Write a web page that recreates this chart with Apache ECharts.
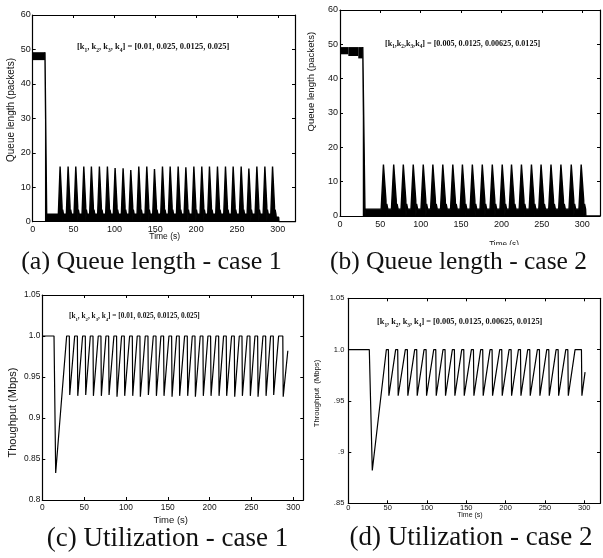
<!DOCTYPE html>
<html>
<head>
<meta charset="utf-8">
<style>
  html, body { margin: 0; padding: 0; background: #fff; }
  #chart { width: 603px; height: 558px; }
</style>
<script src="https://cdn.jsdelivr.net/npm/echarts@6/dist/echarts.min.js"></script>
</head>
<body>
<div id="chart"></div>
<script>
// ---------- values ----------
// (a) queue length, case 1  [t0, t1, low, high] of the saturated band before the drop
const queueA_preBand = [[0, 15.0, 46.9, 49.2]];
const queueA_dropT = [15.0, 17.2];
const queueA_baseLevel = 2.2;
const queueA_spikeT = [33.9, 43.7, 53.1, 62.9, 72.2, 82.0, 91.8, 101.2, 111.0, 120.4, 130.2, 140.0, 149.4, 159.2,
  168.6, 178.4, 187.8, 197.6, 207.3, 216.7, 226.5, 236.3, 245.7, 255.5, 264.9, 274.7, 284.5, 293.9];
const queueA_spikePeak = [16, 16, 16, 16, 16, 16, 16, 15.6, 15.5, 15, 16, 16, 15.3, 16,
  16, 16, 15.8, 16, 16, 16, 16, 16, 16, 16, 15.4, 16, 16, 16];
const queueA_tail = [[298, 1.3], [301, 1.3], [301.3, 0], [321, 0]];

// (b) queue length, case 2
const queueB_preBand = [[0, 10.3, 47.1, 49.2], [10.3, 22.6, 46.6, 49.2], [22.6, 28.2, 45.9, 49.2]];
const queueB_dropT = [28.2, 31.0];
const queueB_baseLevel = 2.0;
const queueB_spikeT = [54.3, 67.0, 78.9, 91.2, 103.6, 115.5, 127.8, 140.2, 152.1, 164.4, 176.7,
  189.1, 201.4, 212.9, 225.2, 237.6, 249.5, 261.8, 274.1, 286.9, 299.2];
const queueB_spikePeak = [15, 15, 15, 15, 15, 15, 15, 15, 15, 15, 15,
  15, 15, 15, 15, 15, 15, 15, 15, 15, 15];
const queueB_tail = [[304.5, 0], [322, 0]];

// (c) utilization, case 1
const capacity = 1.0;
const utilC_head = [[0, 1.0], [14, 1.0], [16, 0.833]];
const utilC_topT = [29.1, 38.7, 48.2, 57.4, 66.9, 76.1, 85.6, 94.8, 104.4, 113.5, 123.1, 132.7, 141.8, 151.4,
  160.5, 170.1, 179.3, 188.8, 198.0, 207.6, 216.7, 226.3, 235.5, 245.0, 254.2, 263.8, 272.9, 282.5];
const utilC_dropT = [32.3, 41.9, 51.4, 60.6, 70.1, 79.3, 88.8, 98.0, 107.6, 116.7, 126.3, 135.9, 145.0, 154.6,
  163.7, 173.3, 182.5, 192.0, 201.2, 210.8, 219.9, 229.5, 238.7, 248.2, 257.4, 267.0, 276.1, 287.5];
const utilC_lowT = [32.8, 42.4, 51.9, 61.1, 70.6, 79.8, 89.3, 98.5, 108.1, 117.2, 126.8, 136.4, 145.5, 155.1,
  164.2, 173.8, 183.0, 192.5, 201.7, 211.3, 220.4, 230.0, 239.2, 248.7, 257.9, 267.5, 276.6, 288.0];
const utilC_lowV = [0.928, 0.927, 0.928, 0.927, 0.927, 0.928, 0.926, 0.927, 0.927, 0.926, 0.928, 0.927, 0.927, 0.926,
  0.927, 0.927, 0.926, 0.927, 0.927, 0.927, 0.927, 0.926, 0.927, 0.927, 0.926, 0.927, 0.928, 0.926];
const utilC_tail = [[293.5, 0.982]];

// (d) utilization, case 2
const utilD_head = [[0, 1.0], [26.7, 1.0], [30.5, 0.882]];
const utilD_topT = [48.4, 60.2, 72.5, 84.4, 96.3, 108.6, 120.4, 132.3, 144.2, 156.5, 168.3,
  180.2, 192.5, 204.4, 216.3, 228.1, 240.4, 252.3, 264.2, 276.5, 288.3];
const utilD_dropT = [51.0, 62.8, 75.1, 87.0, 98.9, 111.2, 123.0, 134.9, 146.8, 159.1, 170.9,
  182.8, 195.1, 207.0, 218.9, 230.7, 243.0, 254.9, 266.8, 279.1, 296.4];
const utilD_lowT = [51.6, 63.4, 75.7, 87.6, 99.5, 111.8, 123.6, 135.5, 147.4, 159.7, 171.5,
  183.4, 195.7, 207.6, 219.5, 231.3, 243.6, 255.5, 267.4, 279.7, 297.0];
const utilD_lowV = [0.955, 0.955, 0.955, 0.955, 0.955, 0.955, 0.955, 0.955, 0.955, 0.955, 0.955,
  0.955, 0.955, 0.955, 0.955, 0.955, 0.955, 0.955, 0.955, 0.955, 0.955];
const utilD_tail = [[301, 0.978]];

// ---------- trace builders ----------
// each queue spike: steep rise to the peak, fall, thin empty notch at the foot
function queueTrace(preTop, dropT, base, spikeT, spikePeak, tail, w) {
  const pts = [[dropT[0], preTop], [dropT[1], 0], [dropT[1] + 0.2, base]];
  spikeT.forEach((t, i) => {
    pts.push([t - w, base], [t - 0.15 * w, spikePeak[i]], [t + 0.15 * w, spikePeak[i]], [t + 0.8 * w, 4.5],
      [t + 0.85 * w, 0], [t + 1.1 * w, 3.5], [t + 1.5 * w, base]);
  });
  return pts.concat(tail);
}

function utilTrace(head, topT, dropT, lowT, lowV, tail) {
  const pts = head.slice();
  topT.forEach((t, i) => {
    pts.push([t, capacity], [dropT[i], capacity], [lowT[i], lowV[i]]);
  });
  return pts.concat(tail);
}

const traceA = queueTrace(49.2, queueA_dropT, queueA_baseLevel, queueA_spikeT, queueA_spikePeak, queueA_tail, 2.5);
const traceB = queueTrace(49.2, queueB_dropT, queueB_baseLevel, queueB_spikeT, queueB_spikePeak, queueB_tail, 3.3);
const traceC = utilTrace(utilC_head, utilC_topT, utilC_dropT, utilC_lowT, utilC_lowV, utilC_tail);
const traceD = utilTrace(utilD_head, utilD_topT, utilD_dropT, utilD_lowT, utilD_lowV, utilD_tail);

// ---------- chart ----------
const chart = echarts.init(document.getElementById('chart'));
const SANS = 'Liberation Sans';
const SERIF = 'Liberation Serif';
const INK = '#111';

const panels = [
  { grid: { left: 32.7, top: 15, width: 262.3, height: 206.7 }, xMax: 321, yMin: 0, yMax: 60, yStep: 10,
    fs: 9, xMargin: 3, yMargin: 2, yFmt: v => String(v) },
  { grid: { left: 340, top: 10, width: 261.5, height: 206 }, xMax: 322, yMin: 0, yMax: 60, yStep: 10,
    fs: 9, xMargin: 4, yMargin: 2, yFmt: v => String(v) },
  { grid: { left: 42.3, top: 295, width: 261, height: 205 }, xMax: 312, yMin: 0.8, yMax: 1.05, yStep: 0.05,
    fs: 8.4, xMargin: 4, yMargin: 2, yFmt: v => { const r = Math.round(v * 100) / 100; return r === 1 ? '1.0' : String(r); } },
  { grid: { left: 348.3, top: 298.3, width: 260.5, height: 205 }, xMax: 320, yMin: 0.85, yMax: 1.05, yStep: 0.05,
    fs: 7.5, xMargin: 1, yMargin: 4, yFmt: v => { const r = Math.round(v * 100) / 100; return r === 1 ? '1.0' : (r < 1 ? String(r).replace(/^0/, '') : String(r)); } }
];

const frameLine = { onZero: false, lineStyle: { color: '#000', width: 1.2 } };
const innerTick = { inside: true, length: 3, lineStyle: { color: '#000', width: 1 } };

const xAxis = [], yAxis = [];
panels.forEach((p, i) => {
  const xb = { gridIndex: i, type: 'value', min: 0, max: p.xMax, interval: 50,
    axisLine: frameLine, axisTick: innerTick, splitLine: { show: false } };
  xAxis.push(Object.assign({}, xb, { position: 'bottom',
    axisLabel: { fontFamily: SANS, fontSize: p.fs, color: INK, margin: p.xMargin,
      formatter: v => (Math.abs(v % 50) < 1e-6 ? String(v) : '') } }));
  xAxis.push(Object.assign({}, xb, { position: 'top', axisLabel: { show: false } }));
  const yb = { gridIndex: i, type: 'value', min: p.yMin, max: p.yMax, interval: p.yStep,
    axisLine: frameLine, axisTick: innerTick, splitLine: { show: false } };
  yAxis.push(Object.assign({}, yb, { position: 'left',
    axisLabel: { fontFamily: SANS, fontSize: p.fs, color: INK, margin: p.yMargin, formatter: p.yFmt } }));
  yAxis.push(Object.assign({}, yb, { position: 'right', axisLabel: { show: false } }));
});

function bandItem(params, api) {
  const a = api.coord([api.value(0), api.value(3)]);
  const b = api.coord([api.value(1), api.value(2)]);
  return { type: 'rect', shape: { x: a[0], y: a[1], width: b[0] - a[0], height: b[1] - a[1] },
    style: { fill: '#000' } };
}

const lineBase = { type: 'line', showSymbol: false, symbol: 'none', silent: true,
  lineStyle: { color: '#000', width: 1.2 }, z: 3 };

const series = [
  { type: 'custom', xAxisIndex: 0, yAxisIndex: 0, data: queueA_preBand, encode: { x: [0, 1], y: [2, 3] },
    renderItem: bandItem, silent: true, z: 3 },
  Object.assign({}, lineBase, { xAxisIndex: 0, yAxisIndex: 0, data: traceA,
    lineStyle: { color: '#000', width: 1.4 }, areaStyle: { color: '#000', opacity: 1 } }),
  { type: 'custom', xAxisIndex: 2, yAxisIndex: 2, data: queueB_preBand, encode: { x: [0, 1], y: [2, 3] },
    renderItem: bandItem, silent: true, z: 3 },
  Object.assign({}, lineBase, { xAxisIndex: 2, yAxisIndex: 2, data: traceB,
    lineStyle: { color: '#000', width: 1.4 }, areaStyle: { color: '#000', opacity: 1 } }),
  Object.assign({}, lineBase, { xAxisIndex: 4, yAxisIndex: 4, data: traceC }),
  Object.assign({}, lineBase, { xAxisIndex: 6, yAxisIndex: 6, data: traceD })
];

function kLabel(x, y, spaced, values, size) {
  const sep = spaced ? ', k' : ',k';
  const text = '{n|[k}{s|1}{n|' + sep + '}{s|2}{n|' + sep + '}{s|3}{n|' + sep + '}{s|4}{n|] = [' + values + ']}';
  return { type: 'text', x, y, z: 10, silent: true,
    style: { text, fill: INK, align: 'left', verticalAlign: 'middle',
      rich: {
        n: { fontFamily: SERIF, fontWeight: 'bold', fontSize: size, lineHeight: size + 4, fill: INK },
        s: { fontFamily: SERIF, fontWeight: 'bold', fontSize: size * 0.65, lineHeight: size * 0.65, verticalAlign: 'bottom', fill: INK }
      } } };
}

function label(text, x, y, size, family, rotate) {
  return { type: 'text', x, y, z: 10, silent: true, rotation: rotate ? Math.PI / 2 : 0,
    style: { text, fill: INK, align: 'center', verticalAlign: 'middle', fontFamily: family, fontSize: size } };
}

const graphic = [
  kLabel(77, 47, true, '0.01, 0.025, 0.0125, 0.025', 8.5),
  kLabel(385, 43.5, false, '0.005, 0.0125, 0.00625, 0.0125', 8.1),
  kLabel(69, 316.5, true, '0.01, 0.025, 0.0125, 0.025', 7.3),
  kLabel(377, 321.7, true, '0.005, 0.0125, 0.00625, 0.0125', 8.3),

  label('Queue length (packets)', 11.7, 110, 10, SANS, true),
  label('Queue length (packets)', 311, 81.7, 9.6, SANS, true),
  label('Thoughput (Mbps)', 13.3, 412.6, 11, SANS, true),
  label('Throughput  (Mbps)', 317.3, 393.5, 7.7, SANS, true),

  label('Time (s)', 164.7, 237, 8.5, SANS),
  label('Time (s)', 504, 245, 8.2, SANS),
  { type: 'rect', z: 11, silent: true, shape: { x: 480, y: 245, width: 50, height: 6 }, style: { fill: '#fff' } },
  label('Time (s)', 170.8, 520, 9.5, SANS),
  label('Time (s)', 470, 515, 7, SANS),

  label('(a) Queue length - case 1', 151.5, 262, 26, SERIF),
  label('(b) Queue length - case 2', 458.5, 262, 25.5, SERIF),
  label('(c) Utilization - case 1', 167.5, 539, 27, SERIF),
  label('(d) Utilization - case 2', 471, 537.5, 27, SERIF)
];

chart.setOption({
  animation: false,
  backgroundColor: '#fff',
  grid: panels.map(p => p.grid),
  xAxis,
  yAxis,
  series,
  graphic
});
</script>
</body>
</html>
